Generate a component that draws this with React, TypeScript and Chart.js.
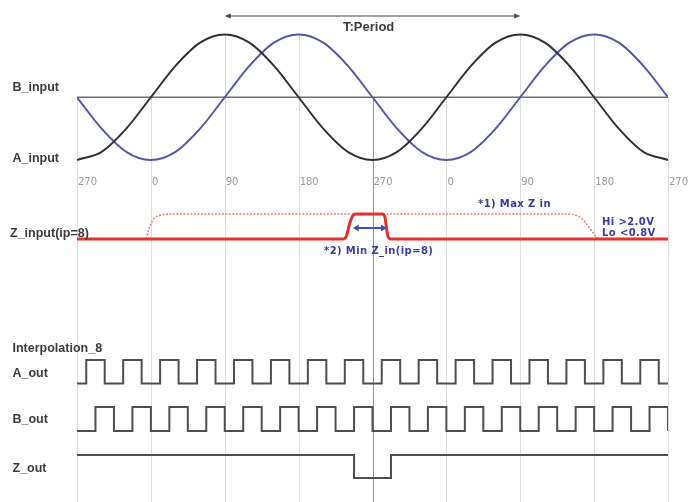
import React, { useEffect, useRef } from 'react';
import { Chart, registerables } from 'chart.js';

Chart.register(...registerables);

// Electrical phase (degrees) of the input sine samples
const PHASE = [-90, -60, -30, 0, 30, 60, 90, 120, 150, 180, 210, 240, 270, 300, 330, 360, 390, 420, 450, 480, 510, 540, 570, 600, 630];
// Normalised amplitude of A_input (black) and B_input (blue)
const A_INPUT = [-1, -0.87, -0.5, 0, 0.5, 0.87, 1, 0.87, 0.5, 0, -0.5, -0.87, -1, -0.87, -0.5, 0, 0.5, 0.87, 1, 0.87, 0.5, 0, -0.5, -0.87, -1];
const B_INPUT = [0, -0.5, -0.87, -1, -0.87, -0.5, 0, 0.5, 0.87, 1, 0.87, 0.5, 0, -0.5, -0.87, -1, -0.87, -0.5, 0, 0.5, 0.87, 1, 0.87, 0.5, 0];

// Z_input (solid): minimum Z pulse
const Z_IN_PHASE = [-90, 234, 238, 242, 246, 250, 282, 285, 287, 289, 293, 630];
const Z_IN_LEVEL = [0, 0, 0.1, 0.6, 0.93, 1, 1, 0.9, 0.45, 0.08, 0, 0];
// Z_input (dotted): maximum Z pulse
const Z_MAX_PHASE = [-5.5, -3, 0, 4, 11, 23, 508, 518, 526, 533, 539, 543, 546.5];
const Z_MAX_LEVEL = [0, 0.35, 0.6, 0.83, 0.95, 1, 1, 0.95, 0.78, 0.5, 0.24, 0.07, 0];

// Output square waves: phases where the level toggles
const A_OUT_EDGES = [-78.75, -56.25, -33.75, -11.25, 11.25, 33.75, 56.25, 78.75, 101.25, 123.75, 146.25, 168.75, 191.25, 213.75, 236.25, 258.75, 281.25, 303.75, 326.25, 348.75, 371.25, 393.75, 416.25, 438.75, 461.25, 483.75, 506.25, 528.75, 551.25, 573.75, 596.25, 618.75];
const B_OUT_EDGES = [-67.5, -45, -22.5, 0, 22.5, 45, 67.5, 90, 112.5, 135, 157.5, 180, 202.5, 225, 247.5, 270, 292.5, 315, 337.5, 360, 382.5, 405, 427.5, 450, 472.5, 495, 517.5, 540, 562.5, 585, 607.5, 630];
const Z_OUT_EDGES = [247.5, 292.5];

// Phase axis ticks
const TICK_PHASES = [-90, 0, 90, 180, 270, 360, 450, 540, 630];
const TICK_LABELS = ['270', '0', '90', '180', '270', '0', '90', '180', '270'];

// Annotations (phase units)
const PERIOD_SPAN = [90, 450];
const MIN_Z_SPAN = [246, 287.5];

const W = 699;
const H = 502;

function trackRange(pxHi: number, pxLo: number, hi: number, lo: number) {
  const s = (pxLo - pxHi) / (hi - lo);
  return { min: lo - (H - pxLo) / s, max: hi + pxHi / s };
}

function steps(start: number, edges: number[], end: number, init: number) {
  const pts: { x: number; y: number }[] = [{ x: start, y: init }];
  let lv = init;
  edges.forEach((e) => {
    lv = 1 - lv;
    pts.push({ x: e, y: lv });
  });
  if (pts[pts.length - 1].x < end) pts.push({ x: end, y: lv });
  return pts;
}

function drawArrow(ctx: CanvasRenderingContext2D, x1: number, x2: number, y: number, color: string, lw: number, head: number, hw: number) {
  ctx.save();
  ctx.strokeStyle = color;
  ctx.fillStyle = color;
  ctx.lineWidth = lw;
  ctx.beginPath();
  ctx.moveTo(x1 + head * 0.6, y);
  ctx.lineTo(x2 - head * 0.6, y);
  ctx.stroke();
  ctx.beginPath();
  ctx.moveTo(x1, y);
  ctx.lineTo(x1 + head, y - hw);
  ctx.lineTo(x1 + head, y + hw);
  ctx.closePath();
  ctx.fill();
  ctx.beginPath();
  ctx.moveTo(x2, y);
  ctx.lineTo(x2 - head, y - hw);
  ctx.lineTo(x2 - head, y + hw);
  ctx.closePath();
  ctx.fill();
  ctx.restore();
}

const diagramPlugin = {
  id: 'diagram',
  beforeDatasetsDraw(chart: any) {
    const ctx: CanvasRenderingContext2D = chart.ctx;
    const xs = chart.scales.x;
    const ys = chart.scales.ySin;
    const bottom = chart.chartArea.bottom;
    ctx.save();
    ctx.lineWidth = 1;
    TICK_PHASES.forEach((t) => {
      const i = PHASE.indexOf(t);
      const top = ys.getPixelForValue(Math.max(A_INPUT[i], B_INPUT[i]));
      const x = Math.round(xs.getPixelForValue(t)) + 0.5;
      ctx.strokeStyle = t === 270 ? '#8a8ad6' : '#dcdcdc';
      ctx.beginPath();
      ctx.moveTo(x, top);
      ctx.lineTo(x, bottom);
      ctx.stroke();
    });
    ctx.restore();
  },
  afterDatasetsDraw(chart: any) {
    const ctx: CanvasRenderingContext2D = chart.ctx;
    const xs = chart.scales.x;
    const ys = chart.scales.ySin;
    const yz = chart.scales.yZin;
    ctx.save();
    // tick labels
    ctx.font = '10px "DejaVu Sans"';
    ctx.fillStyle = '#9a9a9a';
    ctx.textAlign = 'left';
    ctx.textBaseline = 'middle';
    TICK_PHASES.forEach((t, i) => {
      ctx.fillText(TICK_LABELS[i], xs.getPixelForValue(t) + 1, 182);
    });

    // left labels
    ctx.font = 'bold 12.5px "Liberation Sans"';
    ctx.fillStyle = '#3c3c3c';
    const left: [string, number, number][] = [
      ['B_input', 12.5, 87.5],
      ['A_input', 12.5, 159],
      ['Z_input(ip=8)', 10, 234],
      ['Interpolation_8', 12.5, 348.5],
      ['A_out', 12.5, 373.5],
      ['B_out', 12.5, 420],
      ['Z_out', 12.5, 468.5],
    ];
    left.forEach(([s, x, y]) => ctx.fillText(s, x, y));

    // period arrow
    const py = ys.getPixelForValue(1.295);
    drawArrow(ctx, xs.getPixelForValue(PERIOD_SPAN[0]), xs.getPixelForValue(PERIOD_SPAN[1]), py, '#444444', 1, 6, 2.5);
    ctx.font = 'bold 13px "Liberation Sans"';
    ctx.fillStyle = '#3c3c3c';
    ctx.fillText('T:Period', 343, 27.5);

    // min Z arrow
    drawArrow(ctx, xs.getPixelForValue(MIN_Z_SPAN[0]), xs.getPixelForValue(MIN_Z_SPAN[1]), yz.getPixelForValue(0.44), '#4050b0', 2, 6, 3.5);

    // blue notes
    ctx.font = 'bold 10px "DejaVu Sans"';
    (ctx as any).letterSpacing = '0.4px';
    ctx.fillStyle = '#3a3aa6';
    ctx.fillText('*1) Max Z in', 478, 204);
    ctx.fillText('Hi >2.0V', 602, 222.5);
    ctx.fillText('Lo <0.8V', 602, 233);
    ctx.fillText('*2) Min Z_in(ip=8)', 324, 251.5);
    (ctx as any).letterSpacing = '0px';
    ctx.restore();
  },
};

export default function App() {
  const ref = useRef<HTMLCanvasElement | null>(null);

  useEffect(() => {
    if (!ref.current) return;
    const sin = trackRange(34.5, 160, 1, -1);
    const zin = trackRange(214, 239, 1, 0);
    const aout = trackRange(360, 383.5, 1, 0);
    const bout = trackRange(407, 431, 1, 0);
    const zout = trackRange(455, 478, 1, 0);
    const hidden = { display: false, bounds: 'data' as const };

    const line = (pts: { x: number; y: number }[], axis: string, color: string, width: number, extra: any = {}) => ({
      data: pts,
      yAxisID: axis,
      borderColor: color,
      backgroundColor: color,
      borderWidth: width,
      pointRadius: 0,
      fill: false,
      ...extra,
    });

    const chart = new Chart(ref.current, {
      type: 'line',
      data: {
        datasets: [
          line(PHASE.map((p, i) => ({ x: p, y: A_INPUT[i] })), 'ySin', '#303030', 2, { cubicInterpolationMode: 'monotone', order: 1 }),
          line(PHASE.map((p, i) => ({ x: p, y: B_INPUT[i] })), 'ySin', '#5656a6', 2, { cubicInterpolationMode: 'monotone', order: 2 }),
          line([{ x: PHASE[0], y: 0 }, { x: PHASE[PHASE.length - 1], y: 0 }], 'ySin', '#6e6e6e', 1.5, { order: 5 }),
          line(Z_IN_PHASE.map((p, i) => ({ x: p, y: Z_IN_LEVEL[i] })), 'yZin', '#e3322b', 3, { cubicInterpolationMode: 'monotone', order: 1 }),
          line(Z_MAX_PHASE.map((p, i) => ({ x: p, y: Z_MAX_LEVEL[i] })), 'yZin', '#ec7a7a', 1.5, { cubicInterpolationMode: 'monotone', borderDash: [2, 1.5], order: 3 }),
          line(steps(-90, A_OUT_EDGES, 630, 0), 'yA', '#4e4e4e', 2, { stepped: 'before' }),
          line(steps(-90, B_OUT_EDGES, 630, 0), 'yB', '#4e4e4e', 2, { stepped: 'before' }),
          line(steps(-90, Z_OUT_EDGES, 630, 1), 'yZout', '#4e4e4e', 2, { stepped: 'before' }),
        ],
      },
      options: {
        responsive: false,
        animation: false,
        devicePixelRatio: 1,
        layout: { padding: { left: 77, right: 31, top: 0, bottom: 0 } },
        plugins: { legend: { display: false }, tooltip: { enabled: false } },
        events: [],
        scales: {
          x: { type: 'linear', min: -90, max: 630, ...hidden },
          ySin: { type: 'linear', min: sin.min, max: sin.max, ...hidden },
          yZin: { type: 'linear', min: zin.min, max: zin.max, ...hidden },
          yA: { type: 'linear', min: aout.min, max: aout.max, ...hidden },
          yB: { type: 'linear', min: bout.min, max: bout.max, ...hidden },
          yZout: { type: 'linear', min: zout.min, max: zout.max, ...hidden },
        },
      },
      plugins: [diagramPlugin],
    } as any);
    return () => chart.destroy();
  }, []);

  return (
    <div style={{ position: 'fixed', left: 0, top: 0, width: W, height: H, background: '#ffffff' }}>
      <canvas ref={ref} width={W} height={H} style={{ display: 'block' }} />
    </div>
  );
}
